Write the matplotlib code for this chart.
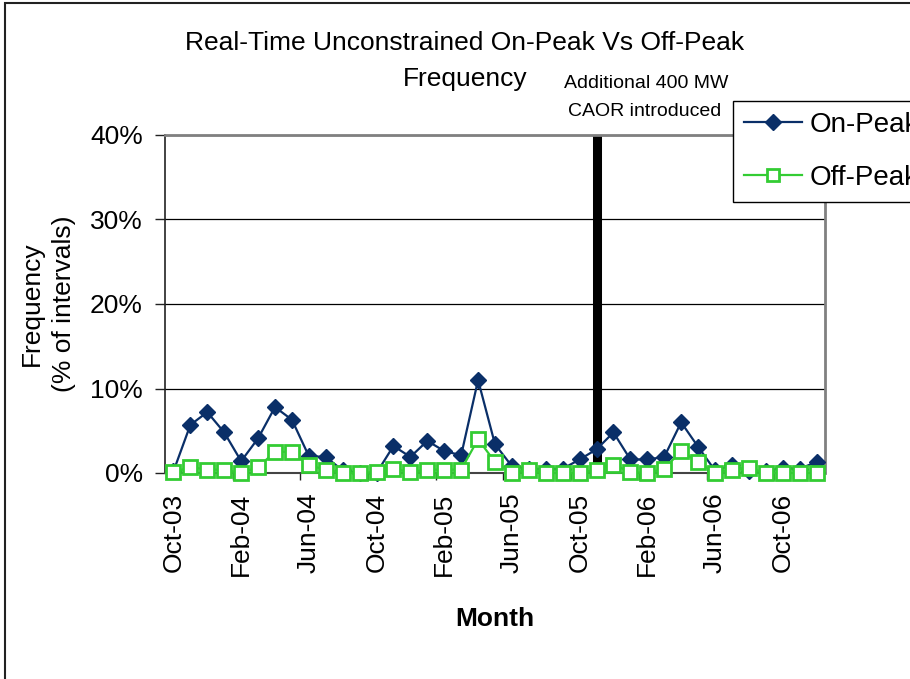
import matplotlib
matplotlib.use("Agg")
import matplotlib.pyplot as plt
from matplotlib.patches import Rectangle
from matplotlib.ticker import FixedLocator, FuncFormatter

plt.rcParams['font.family'] = ['Liberation Sans', 'DejaVu Sans']

months = ['Oct-03', 'Nov-03', 'Dec-03', 'Jan-04', 'Feb-04', 'Mar-04', 'Apr-04',
          'May-04', 'Jun-04', 'Jul-04', 'Aug-04', 'Sep-04', 'Oct-04', 'Nov-04',
          'Dec-04', 'Jan-05', 'Feb-05', 'Mar-05', 'Apr-05', 'May-05', 'Jun-05',
          'Jul-05', 'Aug-05', 'Sep-05', 'Oct-05', 'Nov-05', 'Dec-05', 'Jan-06',
          'Feb-06', 'Mar-06', 'Apr-06', 'May-06', 'Jun-06', 'Jul-06', 'Aug-06',
          'Sep-06', 'Oct-06', 'Nov-06', 'Dec-06']

on_peak = [0.2, 5.7, 7.2, 4.8, 1.4, 4.1, 7.8, 6.3, 2.0, 1.9,
           0.3, 0.0, 0.0, 3.2, 1.9, 3.8, 2.6, 2.1, 11.0, 3.4,
           0.8, 0.5, 0.5, 0.5, 1.6, 2.8, 4.8, 1.6, 1.6, 1.9,
           6.0, 3.1, 0.3, 0.9, 0.2, 0.2, 0.6, 0.5, 1.3]

off_peak = [0.1, 0.7, 0.4, 0.4, 0.0, 0.7, 2.5, 2.5, 0.9, 0.4,
            0.0, 0.0, 0.1, 0.5, 0.1, 0.4, 0.4, 0.4, 4.0, 1.3,
            0.0, 0.4, 0.0, 0.0, 0.0, 0.4, 1.0, 0.1, 0.0, 0.5,
            2.6, 1.3, 0.0, 0.4, 0.6, 0.0, 0.0, 0.0, 0.0]

event_month = 'Nov-05'
event_range = [1.0, 40]
y_ticks = [0, 10, 20, 30, 40]

W, H = 910, 679
fig = plt.figure(figsize=(W / 100, H / 100), dpi=100)
ax = fig.add_axes([165 / W, 1 - 473 / H, 660 / W, 338 / H])

x = list(range(len(months)))

for y in y_ticks[1:]:
    ax.axhline(y, color='black', lw=0.9, zorder=1)

ax.plot(x, on_peak, color='#0a2f68', lw=1.6, marker='D', markersize=8,
        markerfacecolor='#0a2f68', markeredgecolor='#0a2f68',
        label='On-Peak', zorder=3, clip_on=False)
ax.plot(x, off_peak, color='#33cc33', lw=1.6, marker='s', markersize=9.5,
        markerfacecolor='white', markeredgecolor='#33cc33', markeredgewidth=2,
        label='Off-Peak', zorder=4, clip_on=False)

ex = months.index(event_month)
ax.plot([ex, ex], event_range, color='black', lw=6.5, solid_capstyle='butt',
        zorder=2)

ax.set_xlim(-0.5, len(months) - 0.5)
ax.set_ylim(0, 40)

label_pos = x[::4]
ax.xaxis.set_major_locator(FixedLocator(label_pos))
ax.set_xticklabels([months[i] for i in label_pos], rotation=90, fontsize=19)
ax.xaxis.set_minor_locator(FixedLocator([i - 0.5 for i in label_pos[1:]]))
ax.tick_params(axis='x', which='major', length=0, pad=14)
ax.tick_params(axis='x', which='minor', length=5, width=1, color='#222222',
               direction='out')

ax.set_yticks(y_ticks)
ax.yaxis.set_major_formatter(FuncFormatter(lambda v, p: f"{v:.0f}%"))
ax.tick_params(axis='y', length=7, width=1, pad=9, labelsize=19,
               color='#222222')

ax.spines['top'].set_color('#808080')
ax.spines['right'].set_color('#808080')
ax.spines['top'].set_linewidth(2)
ax.spines['right'].set_linewidth(2)
ax.spines['left'].set_color('#222222')
ax.spines['bottom'].set_color('#444444')
ax.spines['left'].set_linewidth(1.2)
ax.spines['bottom'].set_linewidth(1.5)

fig.text(465 / W, 1 - 43 / H, 'Real-Time Unconstrained On-Peak Vs Off-Peak',
         ha='center', va='center', fontsize=19)
fig.text(465 / W, 1 - 79 / H, 'Frequency', ha='center', va='center',
         fontsize=19)
fig.text(646 / W, 1 - 84 / H, 'Additional 400 MW', ha='center', va='center',
         fontsize=14)
fig.text(645 / W, 1 - 112 / H, 'CAOR introduced', ha='center', va='center',
         fontsize=14)
fig.text(48 / W, 1 - 304 / H, 'Frequency\n(% of intervals)', ha='center',
         va='center', rotation=90, fontsize=19, linespacing=1.45,
         multialignment='center')
fig.text(495 / W, 1 - 619 / H, 'Month', ha='center', va='center',
         fontsize=19, fontweight='bold')

leg = fig.legend(loc='upper left', bbox_to_anchor=(733 / W, 1 - 101 / H),
                 fontsize=20, frameon=True, fancybox=False, edgecolor='black',
                 handlelength=2.1, handletextpad=0.25, borderpad=0.4,
                 labelspacing=0.97, borderaxespad=0)
leg.get_frame().set_linewidth(1)
leg.get_frame().set_alpha(1)
for h in leg.legend_handles:
    h.set_markersize(8)

fig.patches.append(Rectangle((5 / W, -0.05), 1.2, 1.05 - 3 / H,
                             transform=fig.transFigure, fill=False,
                             edgecolor='#222222', lw=1.5))

fig.savefig('out.png', dpi=100)
